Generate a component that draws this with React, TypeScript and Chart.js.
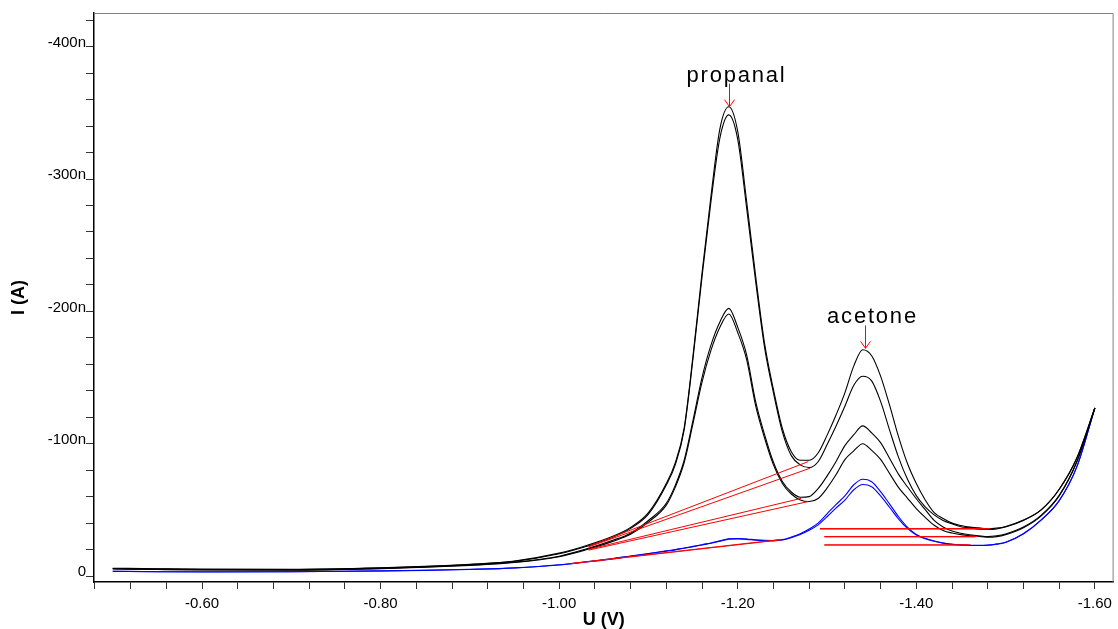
import React, { useEffect, useRef } from "react";
import { Chart, registerables } from "chart.js";

Chart.register(...registerables);

const FONT = '"Liberation Sans", Arial, Helvetica, sans-serif';

// Potential U (V)
const potentialU = [
  -0.50, -0.55, -0.60, -0.70, -0.80, -0.85, -0.90, -0.95, -1.00, -1.03, -1.06, -1.08,
  -1.10, -1.12, -1.13, -1.14, -1.15, -1.16, -1.17, -1.18, -1.19, -1.20, -1.21, -1.22,
  -1.23, -1.24, -1.25, -1.26, -1.27, -1.28, -1.29, -1.30, -1.31, -1.32, -1.33, -1.34,
  -1.35, -1.36, -1.37, -1.38, -1.39, -1.40, -1.41, -1.42, -1.43, -1.44, -1.45, -1.46,
  -1.47, -1.48, -1.49, -1.50, -1.52, -1.54, -1.56, -1.58, -1.60,
];

// Current I (nA), black sample curves
const currentA = [
  -5.9, -5.5, -5.2, -5.1, -6.2, -7.3, -8.9, -11.4, -17.3, -22.9, -30.0, -36.8,
  -48, -70, -85.5, -112, -167, -229, -287, -338, -354.7, -336, -283, -227,
  -176, -141, -111.5, -94, -87.5, -87.5, -93, -106.3, -121.5, -138.4, -158.8, -171,
  -166.5, -151.1, -129.3, -105.6, -85.2, -69.9, -57.5, -48, -43.5, -40, -38.2, -37,
  -36.5, -35.6, -36.2, -37.5, -42.3, -50.2, -65.6, -89.6, -127,
];
const currentB = [
  -5.7, -5.3, -5.0, -4.9, -6.0, -7.1, -8.7, -11.1, -16.8, -22.3, -29.3, -36.0,
  -46.8, -68.8, -84, -110.5, -165, -226, -283, -331, -348.5, -330, -278, -223,
  -173, -138.5, -109, -91, -84, -82, -86.4, -99.2, -113.2, -128.3, -144.2, -151,
  -147.5, -132, -110.5, -89.9, -73.3, -60.8, -52.3, -46.2, -42, -39.5, -37.2, -36.4,
  -35.4, -35.2, -35.6, -37, -42, -50, -65.4, -89.4, -127,
];
const currentC = [
  -5.5, -5.1, -4.8, -4.7, -5.8, -6.8, -8.3, -10.5, -15.0, -20.4, -27.0, -32.4,
  -42, -55, -68.5, -87.5, -118, -150, -174.5, -192, -202.3, -188, -167, -132,
  -107, -86, -71.5, -63.5, -59.5, -60, -66, -75.5, -86.4, -98.6, -106.8, -113.5,
  -108.2, -100.8, -89, -77, -67.5, -58.4, -50.2, -42, -37, -34, -32.3, -31.2,
  -30.4, -29.8, -30.4, -31.8, -37, -46, -61, -87, -127,
];
const currentD = [
  -5.3, -4.9, -4.6, -4.5, -5.6, -6.6, -8.1, -10.2, -14.6, -19.8, -26.2, -31.6,
  -40.8, -53.6, -67, -85.7, -115.5, -146.5, -170.5, -188, -198, -184, -163.5, -129,
  -104.5, -84, -70, -62, -57.5, -56.3, -58.6, -66.4, -76.5, -88, -94.6, -100,
  -95, -88.2, -77.6, -67, -58.9, -51, -44.3, -38.4, -34.5, -32.5, -31.3, -30.5,
  -29.9, -29.4, -29.8, -31.3, -36.5, -45.5, -60.5, -86.5, -127,
];
// Current I (nA), blue blank curves
const currentE = [
  -3.6, -3.3, -3.2, -3.3, -3.9, -4.4, -5.1, -6.2, -8.5, -10.8, -13.2, -15.2,
  -17.0, -19.0, -20.0, -21.2, -22.4, -23.7, -25.0, -26.6, -28.2, -28.4, -28.0, -27.4,
  -27.0, -26.9, -27.5, -29.5, -32.0, -35.5, -40.0, -47.0, -54.0, -60.5, -69.0, -73.1,
  -71.3, -63.8, -54.5, -45.0, -37.0, -31.5, -28.5, -26.5, -25.0, -24.0, -23.5, -23.2,
  -23.2, -23.4, -24.2, -25.5, -32.0, -42.5, -57.0, -83.0, -127,
];
const currentF = [
  -3.5, -3.2, -3.1, -3.2, -3.8, -4.3, -5.0, -6.1, -8.3, -10.6, -13.0, -15.0,
  -16.8, -18.8, -19.8, -21.0, -22.2, -23.5, -24.8, -26.3, -27.9, -28.1, -27.7, -27.1,
  -26.7, -26.6, -27.2, -29.0, -31.4, -34.6, -38.7, -44.8, -51.3, -57.4, -65.2, -69.2,
  -67.5, -60.6, -52.0, -43.2, -36.0, -31.0, -28.2, -26.3, -24.9, -23.9, -23.4, -23.1,
  -23.1, -23.3, -24.1, -25.4, -31.9, -42.4, -56.9, -82.9, -127,
];

// Red baselines under the propanal peaks (sloped)
const slopeBaseStartU = [-1.033, -1.033, -1.033, -1.033, -1.014, -1.014];
const slopeBaseStartI = [-22.5, -22.0, -20.2, -19.6, -9.6, -9.4];
const slopeBaseEndU = [-1.279, -1.281, -1.271, -1.279, -1.249, -1.249];
const slopeBaseEndI = [-86.5, -81.5, -58.7, -56.3, -27.7, -27.4];

// Red baselines under the acetone peaks (horizontal)
const flatBaseI = [-35.9, -35.5, -29.9, -29.6, -23.6, -23.4];
const flatBaseStartU = [-1.292, -1.292, -1.297, -1.297, -1.297, -1.297];
const flatBaseEndU = [-1.483, -1.480, -1.469, -1.466, -1.461, -1.458];

// Peak annotations
const peakLabels = ["propanal", "acetone"];
const peakU = [-1.19, -1.342];
const peakI = [-354.7, -172.1];

// Axes
const xTicks = [
  -0.48, -0.52, -0.56, -0.60, -0.64, -0.68, -0.72, -0.76, -0.80, -0.84, -0.88, -0.92,
  -0.96, -1.00, -1.04, -1.08, -1.12, -1.16, -1.20, -1.24, -1.28, -1.32, -1.36, -1.40,
  -1.44, -1.48, -1.52, -1.56, -1.60,
];
const xLabelled = [-0.60, -0.80, -1.00, -1.20, -1.40, -1.60];
const yTicks = [0, -20, -40, -60, -80, -100, -120, -140, -160, -180, -200, -220, -240, -260, -280, -300, -320, -340, -360, -380, -400, -420];
const yLabelled = [0, -100, -200, -300, -400];
const xTitle = "U (V)";
const yTitle = "I (A)";

const near = (a: number, b: number) => Math.abs(a - b) < 1e-6;

export default function App() {
  const ref = useRef<HTMLCanvasElement>(null);

  useEffect(() => {
    const canvas = ref.current;
    if (!canvas) return;

    const toPts = (ys: number[]) => potentialU.map((u, i) => ({ x: u, y: ys[i] }));
    const datasets: any[] = [];
    [currentE, currentF].forEach((ys) =>
      datasets.push({
        data: toPts(ys),
        borderColor: "#0000ff",
        borderWidth: 1.1,
        pointRadius: 0,
        cubicInterpolationMode: "monotone",
        order: 3,
      })
    );
    [currentA, currentB, currentC, currentD].forEach((ys) =>
      datasets.push({
        data: toPts(ys),
        borderColor: "#000000",
        borderWidth: 1.1,
        pointRadius: 0,
        cubicInterpolationMode: "monotone",
        order: 2,
      })
    );
    slopeBaseStartU.forEach((u, i) =>
      datasets.push({
        data: [
          { x: u, y: slopeBaseStartI[i] },
          { x: slopeBaseEndU[i], y: slopeBaseEndI[i] },
        ],
        borderColor: "#ff0000",
        borderWidth: 1,
        pointRadius: 0,
        tension: 0,
        order: 1,
      })
    );
    flatBaseI.forEach((v, i) =>
      datasets.push({
        data: [
          { x: flatBaseStartU[i], y: v },
          { x: flatBaseEndU[i], y: v },
        ],
        borderColor: "#ff0000",
        borderWidth: 1,
        pointRadius: 0,
        tension: 0,
        order: 1,
      })
    );

    const overlay = {
      id: "overlay",
      afterDraw(chart: any) {
        const { ctx, chartArea, scales } = chart;
        ctx.save();
        // frame (top and right)
        ctx.strokeStyle = "#808080";
        ctx.lineWidth = 1;
        ctx.beginPath();
        ctx.moveTo(chartArea.left, chartArea.top + 0.5);
        ctx.lineTo(chartArea.right - 0.5, chartArea.top + 0.5);
        ctx.lineTo(chartArea.right - 0.5, chartArea.bottom);
        ctx.stroke();

        // peak annotations
        peakLabels.forEach((lab, i) => {
          const x = Math.round(scales.x.getPixelForValue(peakU[i])) + 0.5;
          const y = scales.y.getPixelForValue(peakI[i]);
          ctx.strokeStyle = "#ff0000";
          ctx.lineWidth = 1;
          ctx.beginPath();
          ctx.moveTo(x, y - 23);
          ctx.lineTo(x, y);
          ctx.moveTo(x - 5, y - 7);
          ctx.lineTo(x, y);
          ctx.lineTo(x + 5, y - 7);
          ctx.stroke();
          ctx.fillStyle = "#000000";
          ctx.font = `22px ${FONT}`;
          (ctx as any).letterSpacing = "1.8px";
          ctx.textAlign = "center";
          ctx.textBaseline = "alphabetic";
          ctx.fillText(lab, x + 7, y - 25);
          (ctx as any).letterSpacing = "0px";
        });

        // axis titles
        ctx.fillStyle = "#000000";
        ctx.font = `bold 18px ${FONT}`;
        ctx.textAlign = "center";
        ctx.textBaseline = "middle";
        ctx.fillText(xTitle, (chartArea.left + chartArea.right) / 2, 620);
        ctx.translate(19, (chartArea.top + chartArea.bottom) / 2);
        ctx.rotate(-Math.PI / 2);
        ctx.fillText(yTitle, 0, 0);
        ctx.restore();
      },
    };

    const chart = new Chart(canvas, {
      type: "line",
      data: { datasets },
      plugins: [overlay],
      options: {
        animation: false,
        responsive: false,
        devicePixelRatio: 1,
        layout: { padding: { top: 13, right: 2, left: 0, bottom: 0 } },
        plugins: { legend: { display: false }, tooltip: { enabled: false } },
        scales: {
          x: {
            type: "linear",
            reverse: true,
            min: -1.621,
            max: -0.479,
            afterFit: (s: any) => {
              s.height = 47;
            },
            afterBuildTicks: (s: any) => {
              s.ticks = xTicks.map((v) => ({ value: v }));
            },
            grid: { drawOnChartArea: false, drawTicks: true, tickLength: 7, tickColor: "#333333" },
            border: { display: true, color: "#000000", width: 1.5 },
            ticks: {
              autoSkip: false,
              maxRotation: 0,
              minRotation: 0,
              padding: 6,
              color: "#000000",
              font: { family: FONT, size: 15 },
              callback: (v: any) => (xLabelled.some((m) => near(m, Number(v))) ? Number(v).toFixed(2) : ""),
            },
          },
          y: {
            type: "linear",
            reverse: true,
            min: -425.5,
            max: 4.5,
            afterFit: (s: any) => {
              s.width = 94;
            },
            afterBuildTicks: (s: any) => {
              s.ticks = yTicks.map((v) => ({ value: v }));
            },
            grid: { drawOnChartArea: false, drawTicks: true, tickLength: 8, tickColor: "#333333" },
            border: { display: true, color: "#000000", width: 1.5 },
            ticks: {
              autoSkip: false,
              padding: 0,
              labelOffset: -4,
              color: "#000000",
              font: { family: FONT, size: 15 },
              callback: (v: any) => {
                const n = Number(v);
                if (!yLabelled.some((m) => near(m, n))) return "";
                return n === 0 ? "0" : `${n}n`;
              },
            },
          },
        },
      },
    });
    return () => chart.destroy();
  }, []);

  return (
    <div style={{ position: "fixed", left: 0, top: 0, width: 1118, height: 629, background: "#ffffff" }}>
      <canvas ref={ref} width={1118} height={629} style={{ display: "block" }} />
    </div>
  );
}
